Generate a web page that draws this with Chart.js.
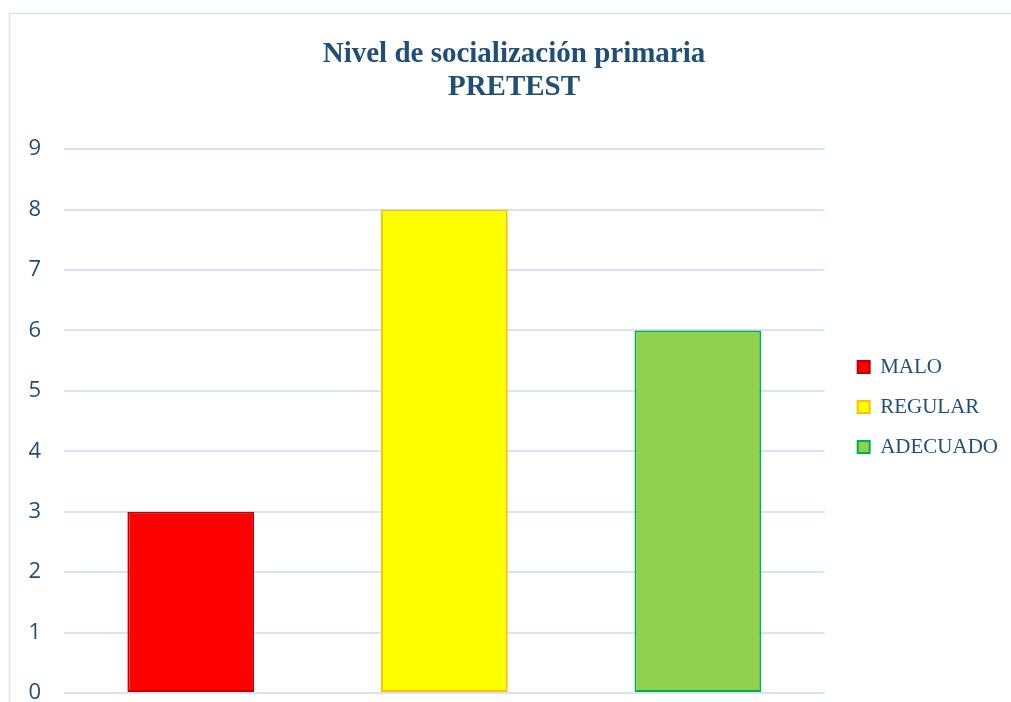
<!DOCTYPE html>
<html>
<head>
<meta charset="utf-8">
<script src="https://cdn.jsdelivr.net/npm/chart.js@4"></script>
<style>
  html, body { margin: 0; padding: 0; background: #ffffff; overflow: hidden; width: 1011px; height: 702px; }
  canvas { display: block; }
</style>
</head>
<body>
<canvas id="c" width="1011" height="814"></canvas>
<script>
const titleLines = ['Nivel de socialización primaria', 'PRETEST'];
const categories = ['MALO', 'REGULAR', 'ADECUADO'];
const values = [3, 8, 6];
const fillColors = ['#FF0000', '#FFFF00', '#92D050'];
const borderColors = ['#C00000', '#FFC000', '#00B050'];
const yTicks = [0, 1, 2, 3, 4, 5, 6, 7, 8, 9];

const textBlue = '#1F4E79';
const gridBlue = '#DAE3F3';

const framePlugin = {
  id: 'frame',
  beforeDraw(chart) {
    const ctx = chart.ctx;
    ctx.save();
    ctx.fillStyle = '#ffffff';
    ctx.fillRect(0, 0, chart.width, chart.height);
    ctx.strokeStyle = gridBlue;
    ctx.lineWidth = 1.5;
    ctx.beginPath();
    ctx.moveTo(9.5, chart.height + 10);
    ctx.lineTo(9.5, 13.5);
    ctx.lineTo(chart.width + 10, 13.5);
    ctx.stroke();
    ctx.restore();
  }
};

new Chart(document.getElementById('c'), {
  type: 'bar',
  data: {
    labels: categories,
    datasets: [{
      data: values,
      backgroundColor: fillColors,
      borderColor: borderColors,
      borderWidth: 2,
      borderSkipped: false,
      barPercentage: 0.5,
      categoryPercentage: 1.0
    }]
  },
  options: {
    responsive: false,
    devicePixelRatio: 1,
    animation: false,
    layout: { padding: { left: 27, right: 10, top: 0, bottom: 0 } },
    plugins: {
      title: {
        display: true,
        text: titleLines,
        color: textBlue,
        font: { family: "'Liberation Serif', 'Times New Roman', serif", size: 29, weight: 'bold', lineHeight: 1.14 },
        padding: { top: 38, bottom: 45 }
      },
      legend: {
        display: true,
        position: 'right',
        align: 'center',
        labels: {
          color: textBlue,
          font: { family: "'Liberation Serif', 'Times New Roman', serif", size: 21 },
          boxWidth: 12,
          boxHeight: 12,
          padding: 19,
          generateLabels(chart) {
            return categories.map((c, i) => ({
              text: c,
              fillStyle: fillColors[i],
              strokeStyle: borderColors[i],
              lineWidth: 2,
              fontColor: textBlue,
              hidden: false,
              index: i
            }));
          }
        },
        onClick() {}
      },
      tooltip: { enabled: false }
    },
    scales: {
      x: {
        display: true,
        grid: { display: false, drawTicks: false },
        border: { display: false },
        ticks: { display: false },
        afterFit(s) { s.height = 814 - 693; }
      },
      y: {
        min: 0,
        max: 9,
        afterBuildTicks(s) { s.ticks = yTicks.map(v => ({ value: v })); },
        grid: { color: gridBlue, lineWidth: 2, drawTicks: false },
        border: { display: false },
        ticks: {
          color: textBlue,
          padding: 23,
          font: { family: "'Open Sans', 'Noto Sans', sans-serif", size: 22 }
        },
        afterFit(s) { s.width = 37; }
      },
      yPad: {
        position: 'right',
        display: true,
        grid: { display: false, drawTicks: false },
        border: { display: false },
        ticks: { display: false },
        afterFit(s) { s.width = 14; }
      }
    }
  },
  plugins: [framePlugin]
});
</script>
</body>
</html>
